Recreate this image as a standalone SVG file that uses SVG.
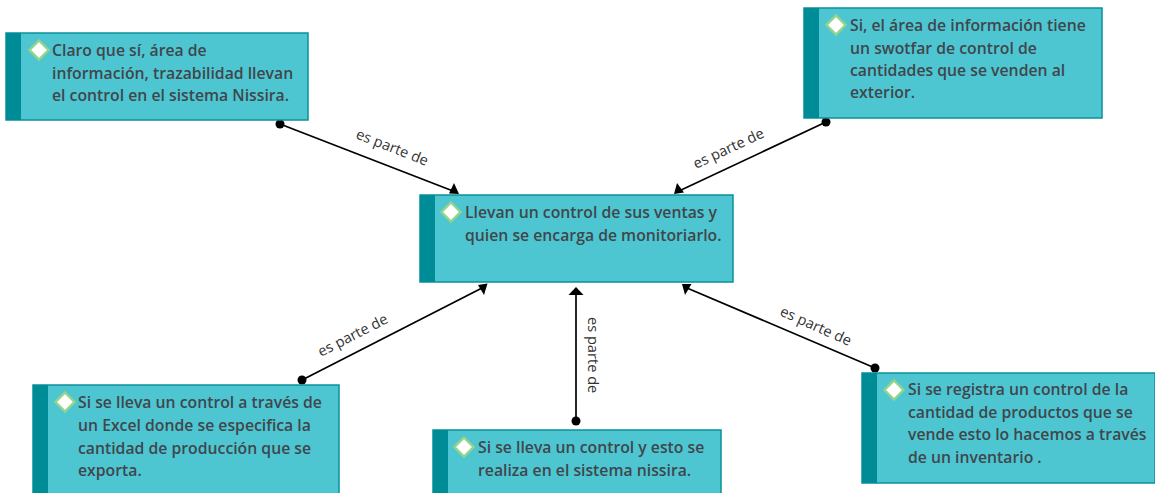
<svg xmlns="http://www.w3.org/2000/svg" width="1155" height="493" viewBox="0 0 1155 493">
<style>
.box{fill:#4dc6d2;stroke:#0a919c;stroke-width:1.5}
.bar{fill:#008c97}
.dia{fill:#fff;stroke:#93d48c;stroke-width:2.4}
.t{font-family:"Open Sans","Noto Sans",sans-serif;font-size:15.77px;font-weight:600;fill:#40464b}
.l{font-family:"Open Sans","Noto Sans",sans-serif;font-size:14.6px;fill:#333}
.c{stroke:#000;stroke-width:1.7;fill:none}
</style>
<g id="connectors">
<path class="c" d="M280 124L453 191"/><circle cx="280" cy="124" r="4.5"/><path d="M454 183L449 193.500L459 194Z"/>
<path class="c" d="M826 122L679 191"/><circle cx="826" cy="122" r="4.500"/><path d="M677 183L674 194L684 192.500Z"/>
<path class="c" d="M302 380L482 288"/><circle cx="302" cy="380" r="4.500"/><path d="M478 285L487.500 283.500L484 295Z"/>
<path class="c" d="M576 421L576 292"/><circle cx="576" cy="421" r="4.500"/><path d="M576 287L583.500 295L568.500 295Z"/>
<path class="c" d="M875 368L687 288"/><circle cx="875" cy="368" r="4.500"/><path d="M682 284L691.500 284L685 295Z"/>
<text class="l" transform="translate(355 138) rotate(21.500)">es parte de</text>
<text class="l" transform="translate(696 169) rotate(-25)">es parte de</text>
<text class="l" transform="translate(321 357) rotate(-27)">es parte de</text>
<text class="l" transform="translate(588 317) rotate(90)">es parte de</text>
<text class="l" transform="translate(779 315) rotate(24)">es parte de</text>
</g>
<g id="n1"><rect class="box" x="6" y="33" width="302" height="87"/><rect class="bar" x="6" y="33" width="15" height="87"/><path class="dia" d="M39 40.500L48.500 50L39 59.500L29.500 50Z"/><text class="t"><tspan x="52" y="56">Claro que sí, área de</tspan><tspan x="52" y="79">información, trazabilidad llevan</tspan><tspan x="52" y="101">el control en el sistema Nissira.</tspan></text></g>
<g id="n2"><rect class="box" x="804" y="8" width="298" height="110"/><rect class="bar" x="804" y="8" width="15" height="110"/><path class="dia" d="M836 15.500L845.500 25L836 34.500L826.500 25Z"/><text class="t"><tspan x="850" y="31">Si, el área de información tiene</tspan><tspan x="850" y="54">un swotfar de control de</tspan><tspan x="850" y="76">cantidades que se venden al</tspan><tspan x="850" y="98">exterior.</tspan></text></g>
<g id="n3"><rect class="box" x="420" y="195" width="313" height="87"/><rect class="bar" x="420" y="195" width="15" height="87"/><path class="dia" d="M451 202.500L460.500 212L451 221.500L441.500 212Z"/><text class="t"><tspan x="465" y="218">Llevan un control de sus ventas y</tspan><tspan x="465" y="241">quien se encarga de monitoriarlo.</tspan></text></g>
<g id="n4"><rect class="box" x="33" y="385" width="306" height="115"/><rect class="bar" x="33" y="385" width="15" height="115"/><path class="dia" d="M65 392.500L74.500 402L65 411.500L55.500 402Z"/><text class="t"><tspan x="78" y="408">Si se lleva un control a través de</tspan><tspan x="78" y="431">un Excel donde se especifica la</tspan><tspan x="78" y="454">cantidad de producción que se</tspan><tspan x="78" y="476">exporta.</tspan></text></g>
<g id="n5"><rect class="box" x="433" y="430" width="288" height="70"/><rect class="bar" x="433" y="430" width="15" height="70"/><path class="dia" d="M464 437.500L473.500 447L464 456.500L454.500 447Z"/><text class="t"><tspan x="478" y="453">Si se lleva un control y esto se</tspan><tspan x="478" y="476">realiza en el sistema nissira.</tspan></text></g>
<g id="n6"><rect class="box" x="862" y="373" width="293" height="110"/><rect class="bar" x="862" y="373" width="15" height="110"/><path class="dia" d="M894 380.500L903.500 390L894 399.500L884.500 390Z"/><text class="t"><tspan x="908" y="395">Si se registra un control de la</tspan><tspan x="908" y="418">cantidad de productos que se</tspan><tspan x="908" y="440">vende esto lo hacemos a través</tspan><tspan x="908" y="463">de un inventario .</tspan></text></g>
</svg>
